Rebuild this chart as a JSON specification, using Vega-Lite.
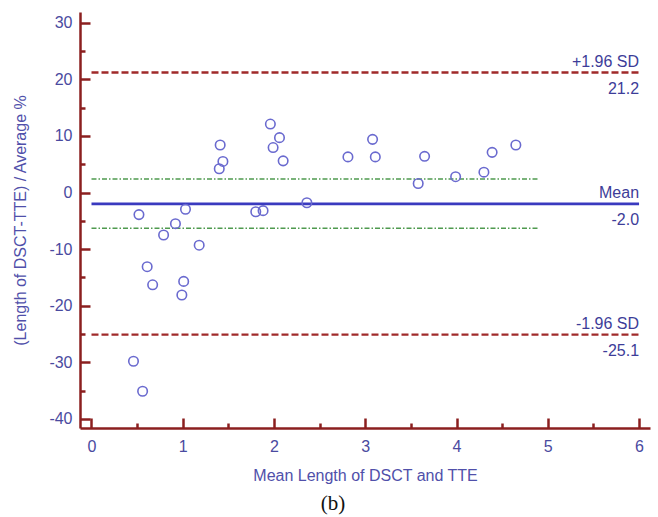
{
  "$schema": "https://vega.github.io/schema/vega-lite/v6.json",
  "width": 570,
  "height": 416,
  "autosize": {"type": "none"},
  "padding": {"left": 80, "top": 12, "right": 8, "bottom": 89},
  "background": "white",
  "title": {
    "text": "(b)",
    "orient": "bottom",
    "anchor": "middle",
    "font": "Liberation Serif",
    "fontSize": 21,
    "fontWeight": "normal",
    "color": "#111111",
    "dx": -32,
    "offset": 10
  },
  "config": {
    "view": {"stroke": null},
    "locale": {"number": {"decimal": ".", "thousands": ",", "grouping": [3], "currency": ["$", ""], "minus": "-"}},
    "axis": {
      "grid": false,
      "domainColor": "#8b1f1f",
      "domainWidth": 2.5,
      "tickColor": "#8b1f1f",
      "tickWidth": 2.5,
      "labelFont": "Liberation Sans",
      "labelFontSize": 16,
      "labelColor": "#4a4aa0",
      "titleFont": "Liberation Sans",
      "titleFontSize": 16,
      "titleFontWeight": "normal",
      "titleColor": "#5050aa"
    }
  },
  "resolve": {"axis": {"x": "independent", "y": "independent"}},
  "datasets": {
    "points": [
      {"mean": 0.46, "diff": -29.8},
      {"mean": 0.52, "diff": -3.9},
      {"mean": 0.56, "diff": -35.1},
      {"mean": 0.61, "diff": -13.1},
      {"mean": 0.67, "diff": -16.3},
      {"mean": 0.79, "diff": -7.5},
      {"mean": 0.92, "diff": -5.5},
      {"mean": 0.99, "diff": -18.1},
      {"mean": 1.01, "diff": -15.7},
      {"mean": 1.03, "diff": -2.95},
      {"mean": 1.18, "diff": -9.3},
      {"mean": 1.40, "diff": 4.2},
      {"mean": 1.41, "diff": 8.4},
      {"mean": 1.44, "diff": 5.5},
      {"mean": 1.80, "diff": -3.4},
      {"mean": 1.88, "diff": -3.2},
      {"mean": 1.96, "diff": 12.1},
      {"mean": 1.99, "diff": 7.95},
      {"mean": 2.06, "diff": 9.7},
      {"mean": 2.10, "diff": 5.6},
      {"mean": 2.36, "diff": -1.8},
      {"mean": 2.81, "diff": 6.3},
      {"mean": 3.08, "diff": 9.4},
      {"mean": 3.11, "diff": 6.3},
      {"mean": 3.58, "diff": 1.6},
      {"mean": 3.65, "diff": 6.4},
      {"mean": 3.99, "diff": 2.8},
      {"mean": 4.30, "diff": 3.6},
      {"mean": 4.39, "diff": 7.1},
      {"mean": 4.65, "diff": 8.4}
    ],
    "limits": [
      {"label": "+1.96 SD", "value": 21.2},
      {"label": "-1.96 SD", "value": -25.1}
    ],
    "mean": [
      {"label": "Mean", "value": -2.0}
    ],
    "ci": [
      {"value": 2.4},
      {"value": -6.3}
    ],
    "labels": [
      {"label": "+1.96 SD", "value": 21.2},
      {"label": "Mean", "value": -2.0},
      {"label": "-1.96 SD", "value": -25.1}
    ]
  },
  "layer": [
    {
      "data": {"name": "ci"},
      "mark": {"type": "rule", "color": "#4f9a4f", "strokeWidth": 1.6, "strokeDash": [5, 2, 1.5, 2]},
      "encoding": {
        "x": {"datum": 0, "type": "quantitative", "scale": {"domain": [-0.126, 6.12], "nice": false, "zero": false},
          "axis": {
            "orient": "bottom",
            "title": null,
            "values": [0.5, 1.5, 2.5, 3.5, 4.5, 5.5],
            "labels": false,
            "domain": false,
            "tickSize": -5
          }},
        "x2": {"datum": 4.9},
        "y": {"field": "value", "type": "quantitative", "scale": {"domain": [-41.6, 31.9], "nice": false, "zero": false},
          "axis": {
            "orient": "left",
            "title": null,
            "values": [-35, -25, -15, -5, 5, 15, 25],
            "labels": false,
            "domain": false,
            "tickSize": -5
          }}
      }
    },
    {
      "data": {"name": "limits"},
      "mark": {"type": "rule", "color": "#a02a2a", "strokeWidth": 2.4, "strokeDash": [7, 3]},
      "encoding": {
        "x": {"datum": 0, "type": "quantitative",
          "axis": {
            "orient": "bottom",
            "title": "Mean Length of DSCT and TTE",
            "values": [0, 1, 2, 3, 4, 5, 6],
            "format": "d",
            "tickSize": -10,
            "labelPadding": 20,
            "titlePadding": 13
          }},
        "x2": {"datum": 6},
        "y": {"field": "value", "type": "quantitative",
          "axis": {
            "orient": "left",
            "title": "(Length of DSCT-TTE) / Average %",
            "values": [-40, -30, -20, -10, 0, 10, 20, 30],
            "format": "d",
            "tickSize": -10,
            "labelPadding": 18,
            "titlePadding": 20
          }}
      }
    },
    {
      "data": {"name": "mean"},
      "mark": {"type": "rule", "color": "#3a3abf", "strokeWidth": 2.6},
      "encoding": {
        "x": {"datum": 0, "type": "quantitative", "axis": null},
        "x2": {"datum": 6},
        "y": {"field": "value", "type": "quantitative", "axis": null}
      }
    },
    {
      "data": {"name": "points"},
      "mark": {"type": "point", "shape": "circle", "filled": false, "color": "#6a6acf", "strokeWidth": 1.6, "size": 90, "opacity": 1},
      "encoding": {
        "x": {"field": "mean", "type": "quantitative", "axis": null},
        "y": {"field": "diff", "type": "quantitative", "axis": null}
      }
    },
    {
      "data": {"name": "labels"},
      "mark": {"type": "text", "align": "right", "baseline": "alphabetic", "dy": -6, "font": "Liberation Sans", "fontSize": 16, "color": "#3d3d99"},
      "encoding": {
        "x": {"datum": 6, "type": "quantitative", "axis": null},
        "y": {"field": "value", "type": "quantitative", "axis": null},
        "text": {"field": "label"}
      }
    },
    {
      "data": {"name": "labels"},
      "mark": {"type": "text", "align": "right", "baseline": "alphabetic", "dy": 21, "font": "Liberation Sans", "fontSize": 16, "color": "#3d3d99"},
      "encoding": {
        "x": {"datum": 6, "type": "quantitative", "axis": null},
        "y": {"field": "value", "type": "quantitative", "axis": null},
        "text": {"field": "value", "type": "quantitative", "format": ".1f"}
      }
    }
  ]
}
